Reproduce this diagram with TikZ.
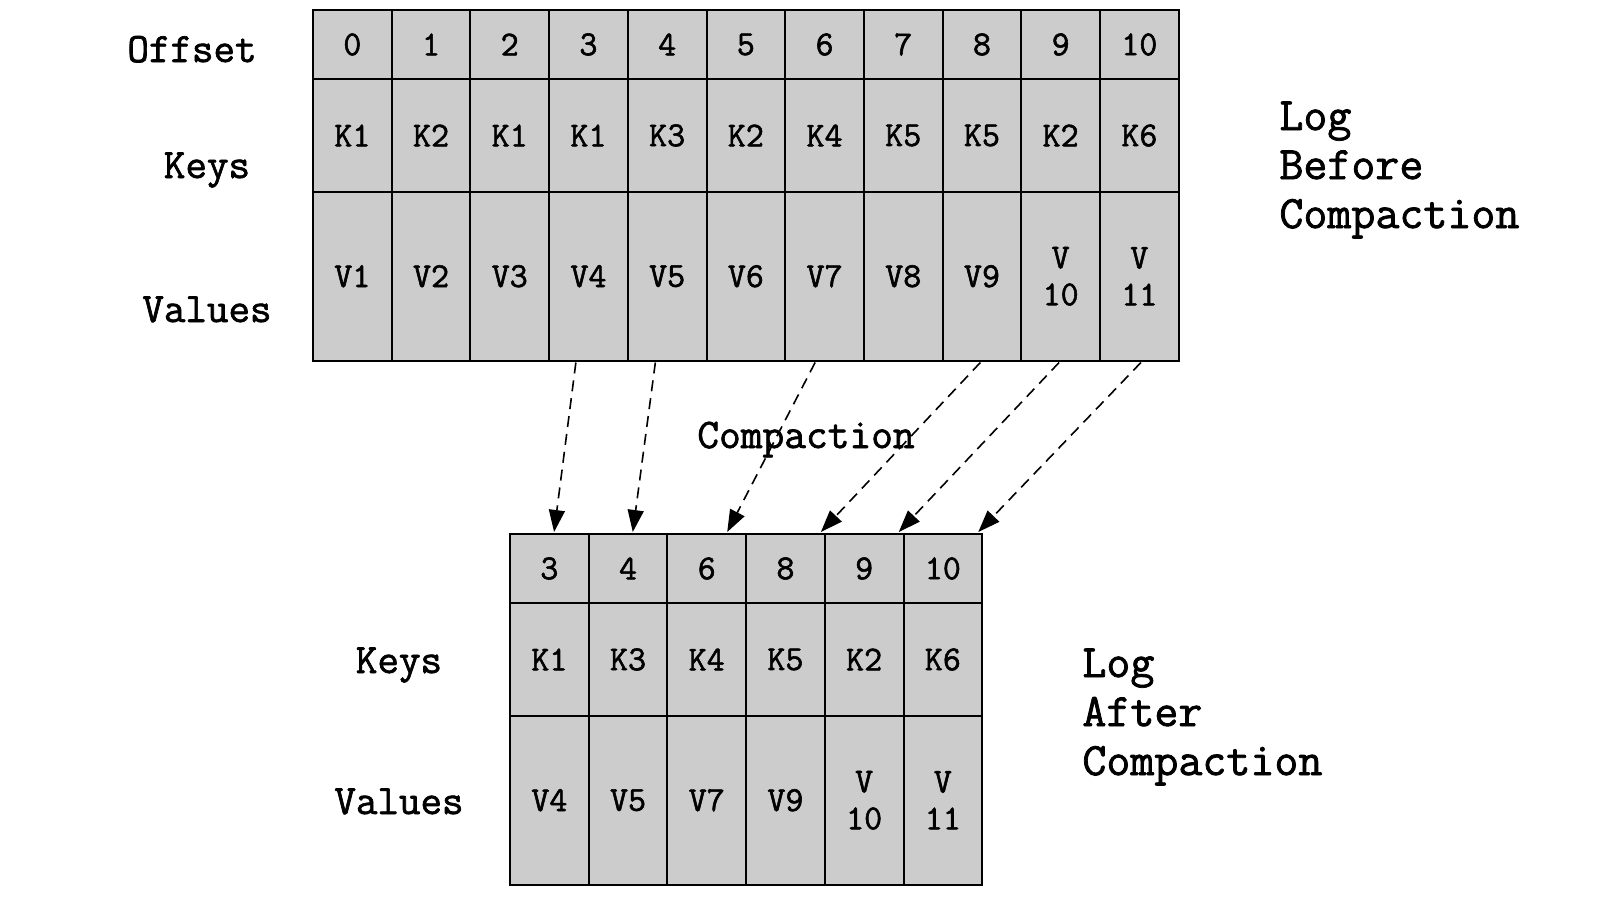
\documentclass[tikz,border=0pt]{standalone}
\usepackage{fontspec}
\usepackage{tikz}
\usetikzlibrary{positioning}
\usetikzlibrary{calc}
\usetikzlibrary{arrows.meta}
\newfontfamily\logfont{Latin Modern Mono}[FakeBold=1.6]
\definecolor{cellgray}{RGB}{204,204,204}
\tikzset{cell node/.style={draw,fill=cellgray,line width=1pt,inner sep=0pt,outer sep=0pt,minimum width=39.35pt,align=center,font=\logfont\fontsize{17.5}{18.5}\selectfont},
off cell/.style={cell node,minimum height=34.5pt},
key cell/.style={cell node,minimum height=56.5pt},
val cell/.style={cell node,minimum height=84.25pt},
row label/.style={anchor=base,inner sep=0pt,font=\logfont\fontsize{20.9}{22}\selectfont},
title label/.style={anchor=west,align=left,inner sep=0pt,font=\logfont\fontsize{23.3}{24.5}\selectfont},
move arrow/.style={-{Triangle[length=11pt,width=8pt]},dash pattern=on 5.5pt off 3.5pt,line width=0.8pt},}

\begin{document}
\begin{tikzpicture}[x=0.5pt,y=-0.5pt]
\useasboundingbox (0,0) rectangle (1620,900);

% log before compaction
\foreach \k/\v [count=\i from 0] in {K1/V1,K2/V2,K1/V3,K1/V4,K3/V5,K2/V6,K4/V7,K5/V8,K5/V9,K2/{V\\10},K6/{V\\11}}{
  \node[off cell] (off\i) at ({313+(\i+0.5)*78.7},44.5) {\i};
  \node[key cell,below=0pt of off\i] (key\i) {\k};
  \node[val cell,below=0pt of key\i] (val\i) {\v};
}
\node[row label] (offlab) at (192,62) {Offset};
\node[row label] (keylab) at (207,178) {Keys};
\node[row label] (vallab) at (207,322) {Values};
\node[title label] (before) at (1279,170) {Log\\Before\\Compaction};

% log after compaction
\foreach \o/\k/\v [count=\i from 0] in {3/K1/V4,4/K3/V5,6/K4/V7,8/K5/V9,9/K2/{V\\10},10/K6/{V\\11}}{
  \node[off cell] (noff\i) at ({510+(\i+0.5)*78.7},568.5) {\o};
  \node[key cell,below=0pt of noff\i] (nkey\i) {\k};
  \node[val cell,below=0pt of nkey\i] (nval\i) {\v};
}
\node[row label] (nkeylab) at (399,673) {Keys};
\node[row label] (nvallab) at (399,814) {Values};
\node[title label] (after) at (1082,717) {Log\\After\\Compaction};

% kept records
\foreach \a/\fa/\b/\fb in {3/0.34/0/0.56,4/0.35/1/0.56,6/0.38/2/0.76,8/0.48/3/0.95,9/0.48/4/0.94,10/0.52/5/0.95}
  \draw[move arrow] ($(val\a.south west)!\fa!(val\a.south east)+(0,2)$) -- ($(noff\b.north west)!\fb!(noff\b.north east)+(0,-2)$);
\node[row label,font=\logfont\fontsize{21.1}{22}\selectfont] (complab) at (806,448) {Compaction};
\end{tikzpicture}
\end{document}
